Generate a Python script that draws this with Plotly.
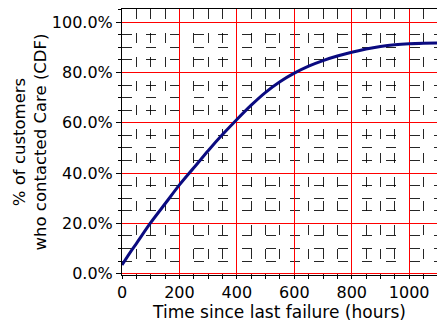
import plotly.graph_objects as go

hours = [0, 35, 50, 98, 150, 200, 250, 300, 350, 400, 450, 500, 550, 600, 650, 700, 750, 800, 850, 900, 950, 1000, 1050, 1100]
cdf = [0.035, 0.096, 0.12, 0.20, 0.278, 0.353, 0.421, 0.489, 0.553, 0.613, 0.670, 0.721, 0.763, 0.797, 0.825, 0.847, 0.865, 0.880, 0.893, 0.903, 0.910, 0.914, 0.916, 0.917]

x_ticks = [0, 200, 400, 600, 800, 1000]
y_ticks = [0, 0.2, 0.4, 0.6, 0.8, 1.0]

fig = go.Figure()
fig.add_trace(go.Scatter(x=hours, y=cdf, mode="lines",
                         line=dict(color="#0a0a80", width=3, shape="spline", smoothing=0.8),
                         showlegend=False))

font = "DejaVu Sans, sans-serif"
fig.update_layout(
    width=437, height=322,
    margin=dict(l=122, r=0, t=9, b=47),
    paper_bgcolor="white", plot_bgcolor="white",
    font=dict(family=font, size=16, color="black"),
    xaxis=dict(
        range=[0, 1097], tickvals=x_ticks, ticks="outside", ticklen=3, tickwidth=1,
        tickcolor="black", showline=True, linecolor="black", linewidth=1, mirror=True,
        showgrid=True, gridcolor="red", gridwidth=1, zeroline=False, automargin=False,
        title=dict(text="Time since last failure (hours)", font=dict(size=17), standoff=4),
        minor=dict(dtick=50, tick0=0, ticks="outside", ticklen=3, tickcolor="black",
                   showgrid=True, gridcolor="rgba(0,0,0,0.85)", griddash="10px,14px", gridwidth=1),
    ),
    yaxis=dict(
        range=[-0.005, 1.052], tickvals=y_ticks, tickformat=".1%", ticks="outside", ticklen=5,
        tickwidth=1, tickcolor="black", showline=True, linecolor="black", linewidth=1,
        showgrid=True, gridcolor="red", gridwidth=1, zeroline=False, automargin=False,
        title=dict(text="% of customers<br>who contacted Care (CDF)", font=dict(size=16.5), standoff=0),
        minor=dict(dtick=0.05, tick0=0, ticks="outside", ticklen=3, tickcolor="black",
                   showgrid=True, gridcolor="rgba(0,0,0,0.85)", griddash="10px,14px", gridwidth=1),
    ),
)

fig.write_html("out.html", config={"displayModeBar": False},
               post_script="document.body.style.margin='0';document.body.style.overflow='hidden';")
